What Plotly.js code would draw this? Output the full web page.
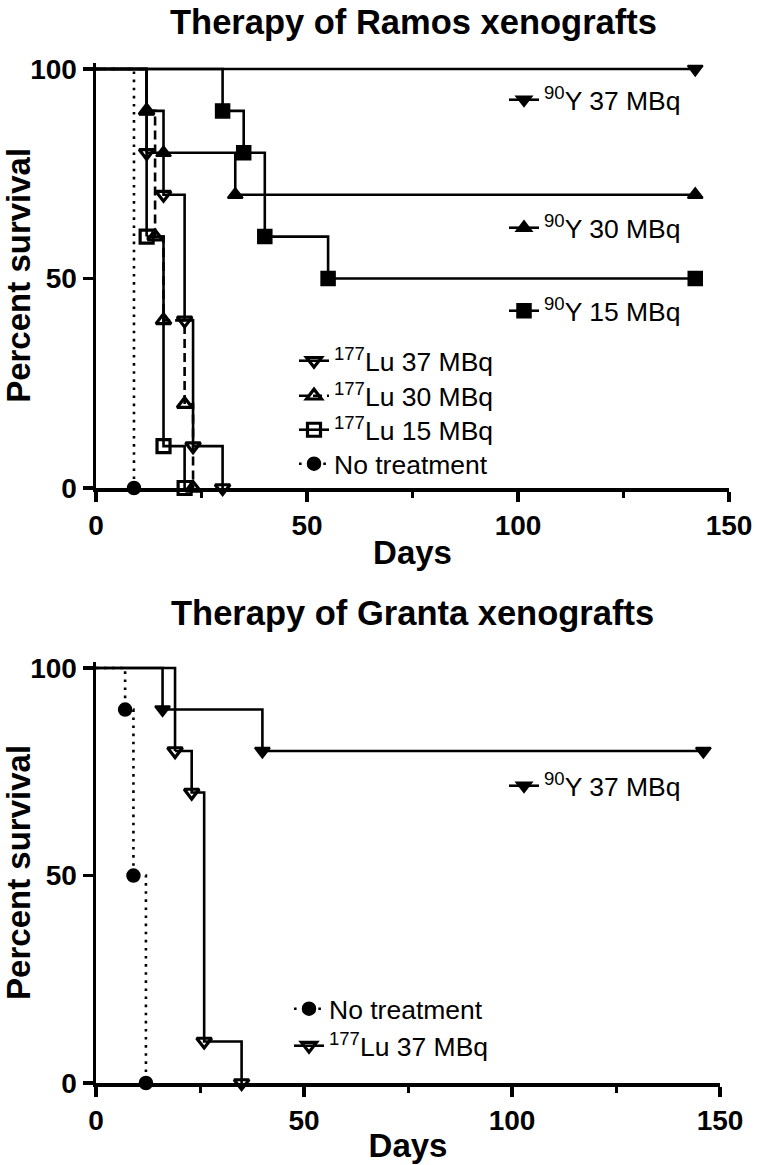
<!DOCTYPE html>
<html><head><meta charset="utf-8">
<script src="https://cdn.plot.ly/plotly-3.0.1.min.js"></script>
<style>html,body{margin:0;padding:0;background:#fff}</style>
</head><body><div id="chart" style="width:758px;height:1165px"></div>
<script>
// ---------- DATA: Therapy of Ramos xenografts ----------
const ramosY90_37_days = [0, 142];
const ramosY90_37_surv = [100, 100];
const ramosY90_30_days = [0, 12, 16, 33, 142];
const ramosY90_30_surv = [100, 90, 80, 70, 70];
const ramosY90_15_days = [0, 30, 35, 40, 55, 142];
const ramosY90_15_surv = [100, 90, 80, 60, 50, 50];
const ramosLu37_days = [0, 12, 16, 21, 23, 30];
const ramosLu37_surv = [100, 80, 70, 40, 10, 0];
const ramosLu30_days = [0, 12, 14, 16, 21, 23];
const ramosLu30_surv = [100, 90, 60, 40, 20, 0];
const ramosLu15_days = [0, 12, 16, 21];
const ramosLu15_surv = [100, 60, 10, 0];
const ramosNone_days = [0, 9];
const ramosNone_surv = [100, 0];

// ---------- DATA: Therapy of Granta xenografts ----------
const grantaY90_37_days = [0, 16, 40, 146];
const grantaY90_37_surv = [100, 90, 80, 80];
const grantaNone_days = [0, 7, 9, 12];
const grantaNone_surv = [100, 90, 50, 0];
const grantaLu37_days = [0, 19, 23, 26, 35];
const grantaLu37_surv = [100, 80, 70, 10, 0];

// ---------- LABELS ----------
const titleRamos = 'Therapy of Ramos xenografts';
const titleGranta = 'Therapy of Granta xenografts';
const xTitle = 'Days';
const yTitle = 'Percent survival';
const xTickVals = [0, 50, 100, 150];
const xMinorVals = [25, 75, 125];
const yTickVals = [0, 50, 100];
const nameY90_37 = '<sup>90</sup>Y 37 MBq';
const nameY90_30 = '<sup>90</sup>Y 30 MBq';
const nameY90_15 = '<sup>90</sup>Y 15 MBq';
const nameLu37 = '<sup>177</sup>Lu 37 MBq';
const nameLu30 = '<sup>177</sup>Lu 30 MBq';
const nameLu15 = '<sup>177</sup>Lu 15 MBq';
const nameNone = 'No treatment';

// ---------- STYLE / LAYOUT ----------
const W = 758, H = 1165;
const F = 'Liberation Sans, Arial, sans-serif';
const LW = 2.6;
const fx = p => p / W;
const fy = p => 1 - p / H;

const SYM = {
  'triangle-down': {size: 13, lw: 2},
  'triangle-up': {size: 13, lw: 2},
  'square': {size: 14, lw: 1.5},
  'circle': {size: 13, lw: 1.5},
  'triangle-down-open': {size: 13, lw: 3.2},
  'triangle-up-open': {size: 13, lw: 3.2},
  'square-open': {size: 13, lw: 3.2}
};

function km(days, surv, name, symbol, dash, legendId, xa, ya) {
  const line = {shape: 'hv', color: '#000', width: LW, dash: dash};
  const lead = {x: days.slice(0, 2), y: surv.slice(0, 2), mode: 'lines', line: line,
    showlegend: false, xaxis: xa, yaxis: ya, hoverinfo: 'skip'};
  const ev = {x: days.slice(1), y: surv.slice(1), mode: 'lines+markers', name: name, line: line,
    marker: {symbol: symbol, size: SYM[symbol].size, color: '#000', line: {color: '#000', width: SYM[symbol].lw}},
    legend: legendId, xaxis: xa, yaxis: ya, cliponaxis: false};
  return [lead, ev];
}

const DASH = '9px,5px';
const DOT = '2.6px,5.5px';

const traces = [].concat(
  km(ramosY90_37_days, ramosY90_37_surv, nameY90_37, 'triangle-down', 'solid', 'legend', 'x', 'y'),
  km(ramosY90_30_days, ramosY90_30_surv, nameY90_30, 'triangle-up', 'solid', 'legend2', 'x', 'y'),
  km(ramosY90_15_days, ramosY90_15_surv, nameY90_15, 'square', 'solid', 'legend3', 'x', 'y'),
  km(ramosNone_days, ramosNone_surv, nameNone, 'circle', DOT, 'legend7', 'x', 'y'),
  km(ramosLu15_days, ramosLu15_surv, nameLu15, 'square-open', 'solid', 'legend6', 'x', 'y'),
  km(ramosLu30_days, ramosLu30_surv, nameLu30, 'triangle-up-open', DASH, 'legend5', 'x', 'y'),
  km(ramosLu37_days, ramosLu37_surv, nameLu37, 'triangle-down-open', 'solid', 'legend4', 'x', 'y'),
  km(grantaY90_37_days, grantaY90_37_surv, nameY90_37, 'triangle-down', 'solid', 'legend8', 'x2', 'y2'),
  km(grantaNone_days, grantaNone_surv, nameNone, 'circle', DOT, 'legend9', 'x2', 'y2'),
  km(grantaLu37_days, grantaLu37_surv, nameLu37, 'triangle-down-open', 'solid', 'legend10', 'x2', 'y2')
);

const tickFont = {family: F, size: 28, weight: 'bold', color: '#000'};
const titleFont = {family: F, size: 33, weight: 'bold', color: '#000'};
const legFont = {family: F, size: 26.5, color: '#000'};

function xAxis(domain, anchor, standoff) {
  return {domain: domain, anchor: anchor, range: [0, 150], showline: true, linewidth: 3.5, linecolor: '#000',
    ticks: 'outside', ticklen: 10, tickwidth: 3.5, tickcolor: '#000', tickvals: xTickVals,
    tickfont: tickFont, showgrid: false, zeroline: false, fixedrange: true,
    minor: {ticks: 'outside', ticklen: 6, tickwidth: 3, tickcolor: '#000', tickvals: xMinorVals, showgrid: false},
    title: {text: xTitle, font: titleFont, standoff: standoff}};
}
function yAxis(domain, anchor) {
  return {domain: domain, anchor: anchor, range: [0, 101.5], showline: true, linewidth: 3.5, linecolor: '#000',
    ticks: 'outside', ticklen: 10, tickwidth: 3.5, tickcolor: '#000', tickvals: yTickVals,
    tickfont: tickFont, showgrid: false, zeroline: false, fixedrange: true,
    title: {text: yTitle, font: titleFont, standoff: 2}};
}
function leg(xp, yp) {
  return {x: fx(xp), y: fy(yp), xanchor: 'left', yanchor: 'middle', xref: 'paper', yref: 'paper',
    font: legFont, bgcolor: 'rgba(0,0,0,0)', borderwidth: 0, itemwidth: 30, tracegroupgap: 0,
    traceorder: 'normal', itemclick: false, itemdoubleclick: false};
}

const layout = {
  width: W, height: H, margin: {l: 0, r: 0, t: 0, b: 0},
  paper_bgcolor: '#fff', plot_bgcolor: '#fff', showlegend: true,
  xaxis: xAxis([fx(96), fx(729)], 'y', 2),
  yaxis: yAxis([fy(488), fy(62.7)], 'x'),
  xaxis2: xAxis([fx(96), fx(720)], 'y2', 0),
  yaxis2: yAxis([fy(1083), fy(661.8)], 'x2'),
  legend: leg(504, 100),
  legend2: leg(504, 228),
  legend3: leg(504, 311),
  legend4: leg(294, 361),
  legend5: leg(294, 396),
  legend6: leg(294, 430),
  legend7: leg(294, 464),
  legend8: leg(504, 786),
  legend9: leg(289, 1009),
  legend10: leg(289, 1046),
  annotations: [
    {text: titleRamos, xref: 'paper', yref: 'paper', x: fx(413), y: fy(22), xanchor: 'center', yanchor: 'middle',
      showarrow: false, font: {family: F, size: 34.5, weight: 'bold', color: '#000'}},
    {text: titleGranta, xref: 'paper', yref: 'paper', x: fx(412), y: fy(613), xanchor: 'center', yanchor: 'middle',
      showarrow: false, font: {family: F, size: 34.5, weight: 'bold', color: '#000'}}
  ]
};

Plotly.newPlot('chart', traces, layout, {displayModeBar: false, staticPlot: true});
</script>
</body></html>
